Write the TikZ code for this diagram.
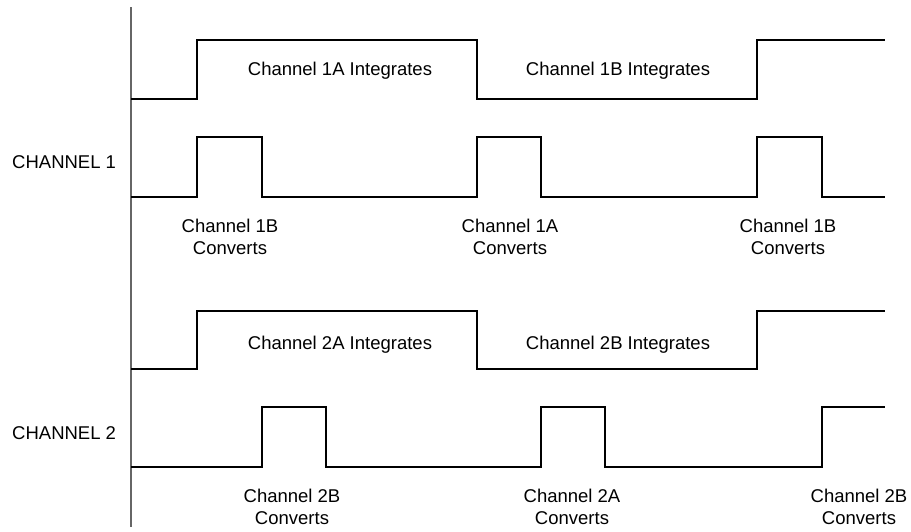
\documentclass[tikz,border=0pt]{standalone}
\usepackage{fontspec}
\setmainfont{Liberation Sans}
\usepackage{tikz}
\usetikzlibrary{positioning}

\begin{document}
\begin{tikzpicture}[x=1pt,y=-1pt,
  wave/.style={black,line width=2.9pt,line join=miter},
  lbl/.style={font=\fontsize{18.5}{22}\selectfont,anchor=base,align=center,inner sep=0pt}]
\useasboundingbox (0,0) rectangle (911,531);

% time axis
\draw[gray!80!black,line width=1.6pt] (131,7) -- (131,527);

% channel 1
\draw[wave] (131,99) -- (197,99) -- (197,40) -- (477,40) -- (477,99) -- (757,99) -- (757,40) -- (885,40);
\draw[wave] (131,197) -- (197,197) -- (197,137) -- (262,137) -- (262,197) -- (477,197) -- (477,137) -- (541,137) -- (541,197) -- (757,197) -- (757,137) -- (822,137) -- (822,197) -- (885,197);

% channel 2
\draw[wave] (131,369) -- (197,369) -- (197,311) -- (477,311) -- (477,369) -- (757,369) -- (757,311) -- (885,311);
\draw[wave] (131,467) -- (262,467) -- (262,407) -- (326,407) -- (326,467) -- (541,467) -- (541,407) -- (605,407) -- (605,467) -- (822,467) -- (822,407) -- (885,407);

\node[lbl,anchor=base west] (ch1) at (12,168.5) {CHANNEL 1};
\node[lbl,anchor=base west] (ch2) at (12,439.5) {CHANNEL 2};

\node[lbl] (int1a) at (340,75) {Channel 1A Integrates};
\node[lbl] (int1b) at (618,75) {Channel 1B Integrates};
\node[lbl] (int2a) at (340,349.5) {Channel 2A Integrates};
\node[lbl] (int2b) at (618,349.5) {Channel 2B Integrates};

% converts labels (base = last line)
\node[lbl] (cv1b) at (230,254.5) {Channel 1B\\Converts};
\node[lbl] (cv1a) at (510,254.5) {Channel 1A\\Converts};
\node[lbl] (cv1c) at (788,254.5) {Channel 1B\\Converts};
\node[lbl] (cv2b) at (292,524.5) {Channel 2B\\Converts};
\node[lbl] (cv2a) at (572,524.5) {Channel 2A\\Converts};
\node[lbl] (cv2c) at (859,524.5) {Channel 2B\\Converts};
\end{tikzpicture}
\end{document}
